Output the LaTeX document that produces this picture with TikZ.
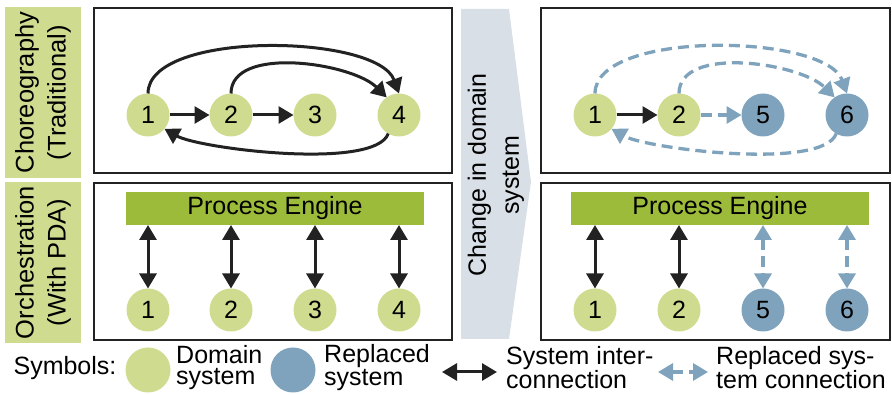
\documentclass[tikz,border=0pt]{standalone}
\usepackage{fontspec}
\setmainfont{Liberation Sans}
\usetikzlibrary{arrows.meta}
\definecolor{domgreen}{RGB}{207,220,143}
\definecolor{enggreen}{RGB}{157,187,58}
\definecolor{replblue}{RGB}{127,163,188}
\definecolor{changegray}{RGB}{216,223,230}
\definecolor{linegray}{RGB}{34,34,34}
\begin{document}
\begin{tikzpicture}[x=1pt, y=1pt, font=\fontsize{25}{30}\selectfont,
	>={Triangle[length=15pt,width=17pt]},
	dom/.style={circle, fill=domgreen, minimum size=43pt, inner sep=0pt, outer sep=0pt},
	repl/.style={dom, fill=replblue},
	link/.style={->, line width=3pt, draw=linegray},
	rlink/.style={link, line width=3.3pt, draw=replblue, dash pattern=on 11pt off 6pt},
	frame/.style={draw=linegray, line width=2.5pt},
	side/.style={fill=domgreen, rotate=90, align=center, inner sep=0pt, font=\fontsize{25.5}{32}\selectfont},
	engine/.style={fill=enggreen, minimum width=298pt, minimum height=33pt, inner sep=0pt, outer sep=0pt},
	leg/.style={anchor=west, align=left, inner sep=1pt, font=\fontsize{25}{21}\selectfont}]
	\useasboundingbox (0,0) rectangle (892,395);
	% row labels
	\node[side, minimum width=171pt, minimum height=76pt] (choreo) at (43,302.5) {Choreography\\(Traditional)};
	\node[side, minimum width=161pt, minimum height=76pt] (orch) at (43,132.5) {Orchestration\\(With PDA)};
	% frames
	\draw[frame] (94,222) rectangle (452,387);
	\draw[frame] (94,55) rectangle (452,212);
	\draw[frame] (541,222) rectangle (890,387);
	\draw[frame] (541,55) rectangle (890,212);
	% change arrow
	\fill[changegray] (461,386) -- (509,386) -- (531,213) -- (509,56) -- (461,56) -- cycle;
	\node[rotate=90, align=center, font=\fontsize{25}{33}\selectfont] (change) at (496,220) {Change in domain\\system};
	% choreography, before
	\node[dom] (ta1) at (148,280) {1};
	\node[dom] (ta2) at (231,280) {2};
	\node[dom] (ta3) at (315,280) {3};
	\node[dom] (ta4) at (399,280) {4};
	\draw[link] (ta1) -- (ta2);
	\draw[link] (ta2) -- (ta3);
	\draw[link] (ta1.north) to[out=90, in=110, looseness=0.65] (ta4.north);
	\draw[link] (ta2.north) to[out=90, in=135, looseness=0.8] (ta4.125);
	\draw[link] (ta4.240) to[out=-110, in=-30, looseness=0.45] (ta1.-40);
	% choreography, after
	\node[dom] (tb1) at (595,280) {1};
	\node[dom] (tb2) at (679,280) {2};
	\node[repl] (tb5) at (763,280) {5};
	\node[repl] (tb6) at (847,280) {6};
	\draw[link] (tb1) -- (tb2);
	\draw[rlink] (tb2) -- (tb5);
	\draw[rlink] (tb1.north) to[out=90, in=110, looseness=0.65] (tb6.north);
	\draw[rlink] (tb2.north) to[out=90, in=135, looseness=0.8] (tb6.125);
	\draw[rlink] (tb6.240) to[out=-110, in=-30, looseness=0.45] (tb1.-40);
	% orchestration, before
	\node[engine] (enga) at (275,186.5) {Process Engine};
	\foreach \i/\x in {1/148, 2/231, 3/315, 4/399} {
		\node[dom] (ba\i) at (\x,85) {\i};
		\draw[link, <->] (enga.south -| ba\i.north) -- (ba\i.north);
	}
	% orchestration, after
	\node[engine] (engb) at (720,186.5) {Process Engine};
	\foreach \i/\x in {1/595, 2/679} {
		\node[dom] (bb\i) at (\x,85) {\i};
		\draw[link, <->] (engb.south -| bb\i.north) -- (bb\i.north);
	}
	\foreach \i/\x in {5/763, 6/847} {
		\node[repl] (bb\i) at (\x,85) {\i};
		\draw[rlink, <->] (engb.south -| bb\i.north) -- (bb\i.north);
	}
	% legend
	\node (sym) at (65,27) {Symbols:};
	\node[dom, minimum size=45pt] (lgdom) at (148,25) {};
	\node[leg] (lgdomtxt) at (175,27.5) {Domain\\system};
	\node[repl, minimum size=45pt] (lgrepl) at (293,25) {};
	\node[leg] (lgrepltxt) at (323,27.5) {Replaced\\system};
	\coordinate (la) at (442,23);
	\coordinate (lb) at (497,23);
	\draw[link, <->] (la) -- (lb);
	\node[leg] (lglinktxt) at (505,27.5) {System inter-\\connection};
	\coordinate (lc) at (658,23);
	\coordinate (ld) at (708,23);
	\draw[rlink, <->] (lc) -- (ld);
	\node[leg] (lgrlinktxt) at (715,27.5) {Replaced sys-\\tem connection};
\end{tikzpicture}
\end{document}
